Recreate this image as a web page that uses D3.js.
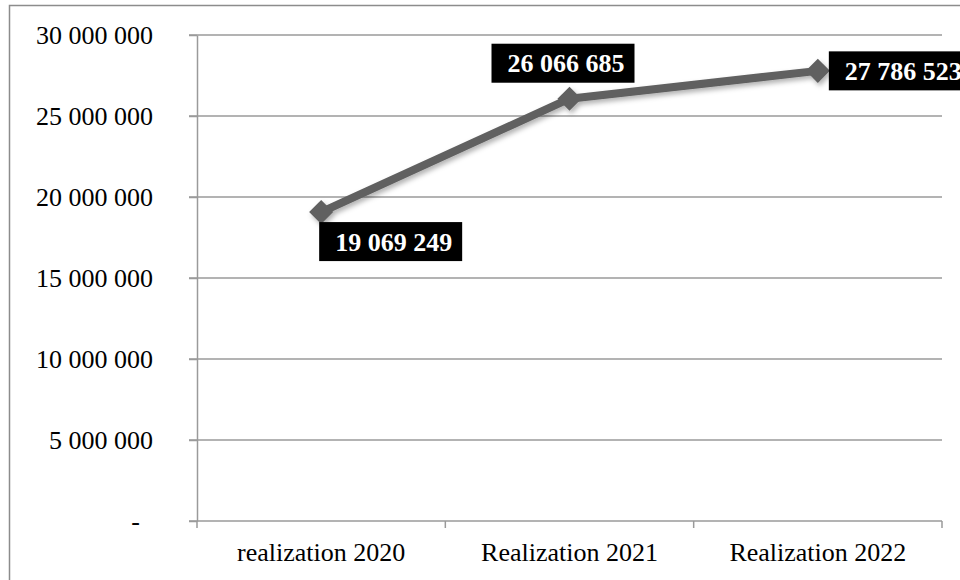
<!DOCTYPE html>
<html>
<head>
<meta charset="utf-8">
<script src="https://cdn.jsdelivr.net/npm/d3@7"></script>
<style>
  body { margin: 0; background: #fff; }
  svg { display: block; }
  text { font-family: "Liberation Serif", "Times New Roman", serif; }
</style>
</head>
<body>
<svg id="chart" width="960" height="580"></svg>
<script>
  var categories = ["realization 2020", "Realization 2021", "Realization 2022"];
  var values = [19069249, 26066685, 27786523];
  var yTicks = [0, 5000000, 10000000, 15000000, 20000000, 25000000, 30000000];

  var svg = d3.select("#chart");
  var fontSize = 26;

  var x = d3.scaleBand().domain(categories).range([197, 942]);
  var y = d3.scaleLinear().domain([0, 30000000]).range([521, 35]);

  var fmt = function (d) {
    if (d === 0) return "-";
    return d3.format(",")(d).replace(/,/g, " ");
  };

  // shadow for the line and markers
  var defs = svg.append("defs");
  defs.append("filter").attr("id", "shadow")
      .attr("x", "-20%").attr("y", "-20%").attr("width", "140%").attr("height", "140%")
    .append("feDropShadow")
      .attr("dx", 2).attr("dy", 3).attr("stdDeviation", 2.5)
      .attr("flood-color", "#000").attr("flood-opacity", 0.3);

  // outer frame
  svg.append("rect")
      .attr("x", 9.5).attr("y", 5.5)
      .attr("width", 1000).attr("height", 600)
      .attr("fill", "none")
      .attr("stroke", "#8c8c8c")
      .attr("stroke-width", 1.5);

  // gridlines
  svg.selectAll("line.grid")
      .data(yTicks)
      .enter().append("line")
      .attr("class", "grid")
      .attr("x1", x.range()[0] - 8)
      .attr("x2", x.range()[1])
      .attr("y1", function (d) { return y(d); })
      .attr("y2", function (d) { return y(d); })
      .attr("stroke", "#9a9a9a")
      .attr("stroke-width", 1.5);

  // y axis
  var yAxis = svg.append("g")
      .attr("transform", "translate(" + x.range()[0] + ",0)")
      .call(d3.axisLeft(y).tickValues(yTicks).tickFormat(fmt)
        .tickSizeInner(8).tickSizeOuter(0).tickPadding(36));
  yAxis.select(".domain").attr("stroke", "#9a9a9a").attr("stroke-width", 1.5);
  yAxis.selectAll(".tick line").attr("stroke", "#9a9a9a").attr("stroke-width", 1.5);
  yAxis.selectAll(".tick text")
      .attr("fill", "#000")
      .style("font-size", fontSize + "px")
      .attr("dx", function (d) { return d === 0 ? -13 : 0; });

  // x axis labels
  var xAxis = svg.append("g")
      .attr("transform", "translate(0," + y(0) + ")")
      .call(d3.axisBottom(x).tickSize(0).tickPadding(22));
  xAxis.select(".domain").remove();
  xAxis.selectAll(".tick text")
      .attr("fill", "#000")
      .style("font-size", fontSize + "px");

  // x boundary ticks
  var bounds = categories.map(function (c) { return x(c); }).concat([x.range()[1]]);
  svg.selectAll("line.xtick")
      .data(bounds)
      .enter().append("line")
      .attr("class", "xtick")
      .attr("x1", function (d) { return d; })
      .attr("x2", function (d) { return d; })
      .attr("y1", y(0))
      .attr("y2", y(0) + 7)
      .attr("stroke", "#9a9a9a")
      .attr("stroke-width", 1.5);

  var points = categories.map(function (c, i) {
    return { cat: c, value: values[i], px: x(c) + x.bandwidth() / 2, py: y(values[i]) };
  });

  // line + markers
  var series = svg.append("g").attr("filter", "url(#shadow)");
  series.append("path")
      .datum(points)
      .attr("d", d3.line().x(function (d) { return d.px; }).y(function (d) { return d.py; }))
      .attr("fill", "none")
      .attr("stroke", "#606060")
      .attr("stroke-width", 8)
      .attr("stroke-linejoin", "round");

  series.selectAll("path.marker")
      .data(points)
      .enter().append("path")
      .attr("class", "marker")
      .attr("d", d3.symbol().type(d3.symbolSquare).size(290))
      .attr("transform", function (d) { return "translate(" + d.px + "," + d.py + ") rotate(45)"; })
      .attr("fill", "#606060");

  // data labels
  var placement = ["below", "above", "right"];
  var boxW = 143, boxH = 39;
  var labels = svg.selectAll("g.label")
      .data(points)
      .enter().append("g")
      .attr("class", "label")
      .attr("transform", function (d, i) {
        var bx, by;
        if (placement[i] === "below") { bx = d.px - 2; by = d.py + 10; }
        else if (placement[i] === "above") { bx = d.px - 78; by = d.py - 16 - boxH; }
        else { bx = d.px + 11; by = d.py - boxH / 2; }
        return "translate(" + bx + "," + by + ")";
      });
  labels.append("rect")
      .attr("width", boxW).attr("height", boxH)
      .attr("fill", "#000");
  labels.append("text")
      .attr("x", function (d, i) { return placement[i] === "right" ? 16 : boxW / 2 + 3; })
      .attr("y", boxH / 2)
      .attr("dy", "0.35em")
      .attr("text-anchor", function (d, i) { return placement[i] === "right" ? "start" : "middle"; })
      .attr("fill", "#fff")
      .style("font-size", fontSize + "px")
      .style("font-weight", "bold")
      .text(function (d) { return fmt(d.value); });
</script>
</body>
</html>
